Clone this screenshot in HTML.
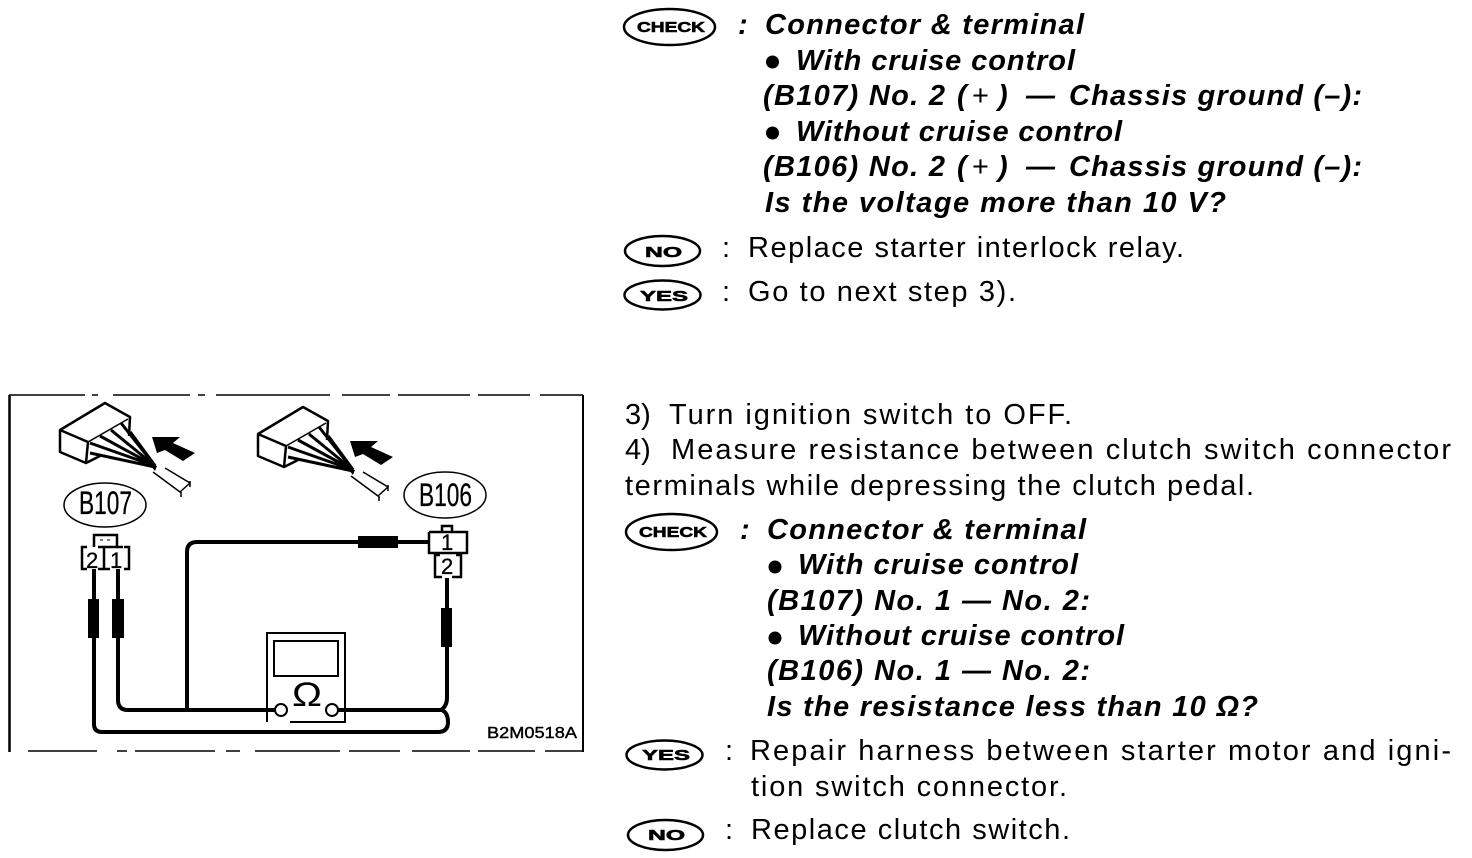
<!DOCTYPE html>
<html lang="en">
<head>
<meta charset="utf-8">
<style>
html,body{margin:0;padding:0;background:#fff;width:1472px;height:858px;overflow:hidden}
svg{display:block}
text{font-family:"Liberation Sans",sans-serif;fill:#000}
.b{font-weight:bold;font-style:italic;font-size:29px}
.r{font-size:29px}
.bd{font-weight:bold;font-size:15px;stroke:#000;stroke-width:.6}
.l{font-size:32px;stroke:#000;stroke-width:.3}
.n{font-size:22px;stroke:#000;stroke-width:.3}
</style>
</head>
<body>
<svg width="1472" height="858" viewBox="0 0 1472 858" xmlns="http://www.w3.org/2000/svg">
<rect width="1472" height="858" fill="#fff"/>

<g fill="none" stroke="#000" stroke-width="2.500">
<ellipse cx="669.500" cy="27" rx="45.500" ry="18"/>
<ellipse cx="662.500" cy="251" rx="37.500" ry="15"/>
<ellipse cx="662.500" cy="295" rx="38" ry="14.500"/>
<ellipse cx="671.500" cy="532" rx="45.500" ry="18"/>
<ellipse cx="664.500" cy="755" rx="38" ry="14.500"/>
<ellipse cx="665.500" cy="835" rx="37.500" ry="15"/>
</g>
<text class="bd" x="637" y="32" textLength="68" lengthAdjust="spacingAndGlyphs">CHECK</text>
<text class="bd" x="645" y="257" textLength="37" lengthAdjust="spacingAndGlyphs">NO</text>
<text class="bd" x="640" y="301" textLength="48" lengthAdjust="spacingAndGlyphs">YES</text>
<text class="bd" x="639" y="537" textLength="68" lengthAdjust="spacingAndGlyphs">CHECK</text>
<text class="bd" x="642" y="760" textLength="48" lengthAdjust="spacingAndGlyphs">YES</text>
<text class="bd" x="648" y="840" textLength="37" lengthAdjust="spacingAndGlyphs">NO</text>

<text class="b" x="738" y="34">:</text>
<text class="b" x="765" y="34" textLength="319">Connector &amp; terminal</text>
<circle cx="772.500" cy="62" r="6.500" fill="#000"/>
<text class="b" x="796" y="70" textLength="279">With cruise control</text>
<text class="b" x="763" y="105" textLength="182">(B107) No. 2</text>
<text class="b" x="957" y="105">(</text>
<text x="972" y="105" font-size="29">+</text>
<text class="b" x="998" y="105">)</text>
<text class="b" x="1026" y="105">—</text>
<text class="b" x="1069" y="105" textLength="293">Chassis ground (–):</text>
<circle cx="772.500" cy="133" r="6.500" fill="#000"/>
<text class="b" x="796" y="141" textLength="326">Without cruise control</text>
<text class="b" x="763" y="176" textLength="182">(B106) No. 2</text>
<text class="b" x="957" y="176">(</text>
<text x="972" y="176" font-size="29">+</text>
<text class="b" x="998" y="176">)</text>
<text class="b" x="1026" y="176">—</text>
<text class="b" x="1069" y="176" textLength="293">Chassis ground (–):</text>
<text class="b" x="765" y="212" textLength="461">Is the voltage more than 10 V?</text>

<text class="r" x="722" y="257">:</text>
<text class="r" x="748" y="257" textLength="436">Replace starter interlock relay.</text>
<text class="r" x="722" y="301">:</text>
<text class="r" x="748" y="301" textLength="268">Go to next step 3).</text>

<text class="r" x="625" y="424">3)</text>
<text class="r" x="669" y="424" textLength="403">Turn ignition switch to OFF.</text>
<text class="r" x="625" y="459">4)</text>
<text class="r" x="671" y="459" textLength="780">Measure resistance between clutch switch connector</text>
<text class="r" x="625" y="495" textLength="629">terminals while depressing the clutch pedal.</text>

<text class="b" x="740" y="539">:</text>
<text class="b" x="767" y="539" textLength="319">Connector &amp; terminal</text>
<circle cx="775" cy="567" r="6.500" fill="#000"/>
<text class="b" x="798" y="574" textLength="280">With cruise control</text>
<text class="b" x="767" y="610" textLength="323">(B107) No. 1 — No. 2:</text>
<circle cx="775" cy="638" r="6.500" fill="#000"/>
<text class="b" x="798" y="645" textLength="326">Without cruise control</text>
<text class="b" x="767" y="680" textLength="323">(B106) No. 1 — No. 2:</text>
<text class="b" x="767" y="716" textLength="491">Is the resistance less than 10 Ω?</text>

<text class="r" x="725" y="760">:</text>
<text class="r" x="750" y="760" textLength="701">Repair harness between starter motor and igni-</text>
<text class="r" x="751" y="796" textLength="316">tion switch connector.</text>
<text class="r" x="725" y="839">:</text>
<text class="r" x="751" y="839" textLength="319">Replace clutch switch.</text>

<!-- Frame -->
<g fill="none" stroke="#000">
<path d="M9.500 395V752" stroke-width="2.500"/>
<path d="M583 395V752" stroke-width="2"/>
<path d="M9 395H85M92 395H98M113 395H190M198 395H205M216 395H330M342 395H390M398 395H470M478 395H530M540 395H583" stroke-width="1.500"/>
<path d="M28 751H97M117 751H127M135 751H215M226 751H240M255 751H340M349 751H400M412 751H470M478 751H535M545 751H583" stroke-width="1.500"/>
</g>

<defs>
<g id="conn">
<g fill="none" stroke="#000" stroke-linejoin="round">
<path d="M60 430L105 403L130 417L129 436" stroke-width="2.500"/>
<path d="M60 430L60 452L86 463L88 442Z" stroke-width="2.500"/>
<path d="M88 442L128 419" stroke-width="1.500"/>
<path d="M86 463L100 456" stroke-width="2.500"/>
<path d="M90 443L155 466M90 453L155 467M100 436L155 466M111 430L155 466M121 423L155 466" stroke-width="3"/>
<path d="M130 432L155 466" stroke-width="3.500"/>
<path d="M153 472L180 492L190 483L165 468" stroke-width="1.500"/>
<path d="M181 492V497M190 481V487" stroke-width="1.500"/>
</g>
<polygon points="150,465 157,466 155,471" fill="#000"/>
<polygon points="152,437 180,437 173,443 195,453 183,461 165,450 157,453" fill="#000"/>
</g>
</defs>
<use href="#conn"/>
<use href="#conn" transform="translate(198,4)"/>

<g fill="none" stroke="#000" stroke-width="1.500">
<ellipse cx="105" cy="505" rx="41" ry="22"/>
<ellipse cx="445" cy="495" rx="41" ry="23"/>
</g>
<text class="l" x="79" y="514" textLength="53" lengthAdjust="spacingAndGlyphs">B107</text>
<text class="l" x="419" y="506" textLength="53" lengthAdjust="spacingAndGlyphs">B106</text>

<!-- B107 connector -->
<g fill="none" stroke="#000" stroke-width="2.500">
<path d="M94 547V535H117V547"/>
<path d="M100 540H112" stroke-width="1" stroke-dasharray="3 4"/>
<path d="M87 547H82V569H87M104 547V569M98 547H123M98 569H110M124 569H129V547H124"/>
</g>
<text class="n" x="86" y="568">2</text>
<text class="n" x="110" y="568">1</text>

<!-- B106 connector -->
<g fill="none" stroke="#000" stroke-width="2.500">
<path d="M442 531V526H452V531"/>
<path d="M429 532H467V553H429V532"/>
<path d="M440 555H435V577H442M456 555H461V577H452"/>
</g>
<text class="n" x="441" y="550">1</text>
<text class="n" x="441" y="574">2</text>

<!-- Wires -->
<g fill="none" stroke="#000" stroke-width="4">
<path d="M94 569V724Q94 732 102 732H438Q448 732 448 722Q448 713 442 710H338"/>
<path d="M118 569V700Q118 710 128 710H275"/>
<path d="M187 710V552Q187 542 197 542H429"/>
<path d="M447 578V698Q447 706 441 710"/>
</g>
<g fill="#000">
<rect x="88" y="599" width="11" height="39"/>
<rect x="112" y="599" width="12" height="39"/>
<rect x="358" y="536" width="40" height="12"/>
<rect x="441" y="608" width="11" height="39"/>
</g>

<!-- Meter -->
<path d="M267 722V633H345V722H290" fill="#fff" stroke="#000" stroke-width="2"/>
<path d="M255 710H275" stroke="#000" stroke-width="4"/>
<path d="M337 710H345" stroke="#000" stroke-width="4"/>
<rect x="274" y="641" width="64" height="35" fill="none" stroke="#000" stroke-width="2"/>
<circle cx="281" cy="710" r="6" fill="#fff" stroke="#000" stroke-width="2"/>
<circle cx="332" cy="710" r="6" fill="#fff" stroke="#000" stroke-width="2"/>
<text x="292" y="706" font-size="34" textLength="30" lengthAdjust="spacingAndGlyphs">Ω</text>

<text x="487" y="738" font-size="16" textLength="90" lengthAdjust="spacingAndGlyphs" stroke="#000" stroke-width=".4">B2M0518A</text>
</svg>
</body>
</html>
